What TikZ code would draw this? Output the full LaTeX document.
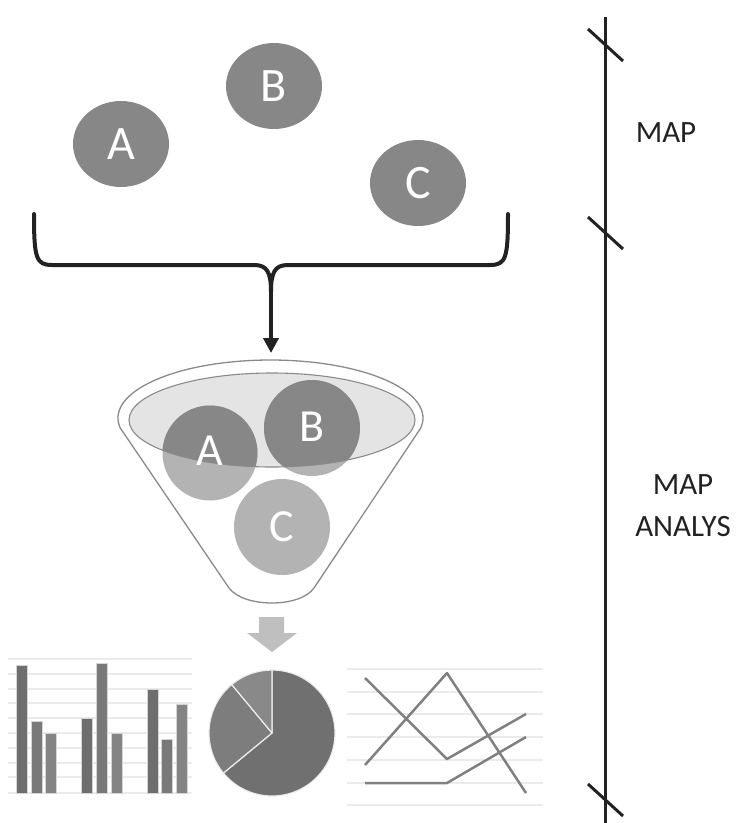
\documentclass[tikz,border=0pt]{standalone}
\usepackage{fontspec}
\setmainfont{Carlito}
\usetikzlibrary{arrows.meta,shapes.geometric}

\definecolor{balldark}{HTML}{878787}
\definecolor{balllight}{HTML}{B3B3B3}
\definecolor{rimgray}{HTML}{8A8A8A}
\definecolor{bowl}{HTML}{E4E4E4}
\definecolor{ink}{HTML}{222222}
\definecolor{grid}{HTML}{EBEBEB}
\definecolor{barone}{HTML}{6E6E6E}
\definecolor{bartwo}{HTML}{797979}
\definecolor{barthree}{HTML}{848484}
\definecolor{pieone}{HTML}{707070}
\definecolor{pietwo}{HTML}{7D7D7D}
\definecolor{piethree}{HTML}{898989}
\definecolor{trend}{HTML}{808080}
\definecolor{blockarrow}{HTML}{BFBFBF}

\begin{document}
\begin{tikzpicture}[x=1pt,y=-1pt,
  topball/.style={ellipse, fill=balldark, draw=none, inner sep=0pt,
    minimum width=96pt, minimum height=86pt, text=white,
    font=\fontsize{48}{48}\selectfont},
  funnelball/.style={circle, draw=none, inner sep=0pt, minimum size=96pt,
    text=white, font=\fontsize{46}{46}\selectfont},
  phase/.style={text=ink, align=center, font=\fontsize{31}{42}\selectfont},
  scaleline/.style={draw=ink, line width=3pt},
  brace/.style={draw=ink, line width=4pt, line cap=round, line join=round},
  gridline/.style={draw=grid, line width=1.5pt},
  bar/.style={draw=grid!80!gray, line width=0.6pt},
  trendline/.style={draw=trend, line width=2.5pt, line join=round},
  slice/.style={draw=white!85!gray, line width=1.2pt, line join=round}]

\useasboundingbox (0,0) rectangle (738,823);

% ---------- phase scale on the right ----------
\coordinate (scaletop) at (605,17);
\coordinate (scalebot) at (605,823);
\draw[scaleline] (scaletop) -- (scalebot);
\coordinate (tickA) at (605,45);
\coordinate (tickB) at (605,233);
\coordinate (tickC) at (605,800);
\foreach \t in {tickA,tickB,tickC}
  \draw[scaleline] ([shift={(-17,-16)}]\t) -- ([shift={(18,16)}]\t);
\node[phase] (lblmap) at (666,133) {MAP};
\node[phase] (lblanalys) at (683,506) {MAP\\ANALYS};

% ---------- input items ----------
\node[topball] (mapA) at (121,144) {A};
\node[topball] (mapB) at (274,86) {B};
\node[topball] (mapC) at (418,183) {C};

% ---------- gathering brace ----------
\coordinate (braceL) at (34,214);
\coordinate (braceR) at (508,214);
\coordinate (bracejoin) at (271,292);
\coordinate (funnelin) at (271,353);
\draw[brace] (braceL) .. controls (34,258) and (36,265) .. (52,265)
  -- (254,265) .. controls (267,265) and (271,272) .. (bracejoin);
\draw[brace] (braceR) .. controls (508,258) and (506,265) .. (490,265)
  -- (288,265) .. controls (275,265) and (271,272) .. (bracejoin);
\draw[brace, -{Triangle[width=15pt,length=15pt]}] (bracejoin) -- (funnelin);

% ---------- funnel ----------
\draw[rimgray, fill=white, line width=1.3pt, line join=round]
  (270.5,418) ++(170:152.5 and 58) arc[start angle=170, end angle=370,
     x radius=152.5, y radius=58]
  -- (314,588) .. controls (300,608) and (244,608) .. (229,588) -- cycle;
\fill[bowl] (272,420) ellipse[x radius=143, y radius=47];

% balls inside the funnel: lighter below the surface, darker within it
\fill[balllight] (210,453) circle[radius=47.5];
\fill[balllight] (312,428) circle[radius=48];
\fill[balllight] (282,527) circle[radius=48];
\begin{scope}
  \clip (272,420) ellipse[x radius=143, y radius=47];
  \fill[balldark] (210,453) circle[radius=47.5];
  \fill[balldark] (312,428) circle[radius=48];
\end{scope}
\draw[rimgray, line width=1.1pt] (272,420) ellipse[x radius=143, y radius=47];
\node[funnelball] (funA) at (210,451) {A};
\node[funnelball] (funB) at (312,427) {B};
\node[funnelball] (funC) at (282,527) {C};

% ---------- output arrow ----------
\fill[blockarrow] (259,617) -- (284,617) -- (284,633) -- (297,633)
  -- (272,652) -- (247,633) -- (259,633) -- cycle;

% ---------- bar chart ----------
\foreach \y in {659,674,689,703,718,733,748,763,777,793}
  \draw[gridline] (8,\y) -- (192,\y);
\foreach \xa/\top/\col in {16/665/barone, 31/721/bartwo, 45/733/barthree,
    81/718/barone, 96/663/bartwo, 111/733/barthree,
    147/689/barone, 161/739/bartwo, 176/704/barthree}
  \filldraw[bar, fill=\col] (\xa,\top) rectangle ({\xa+11},793);

% ---------- pie chart ----------
\coordinate (pie) at (272,733);
\filldraw[slice, fill=pieone] (pie) -- ++(-90:63) arc[start angle=-90, end angle=140.5, radius=63] -- cycle;
\filldraw[slice, fill=pietwo] (pie) -- ++(140.5:63) arc[start angle=140.5, end angle=230.3, radius=63] -- cycle;
\filldraw[slice, fill=piethree] (pie) -- ++(230.3:63) arc[start angle=230.3, end angle=270, radius=63] -- cycle;

% ---------- line chart ----------
\foreach \y in {669,692,714,737,760,783,805}
  \draw[gridline] (347,\y) -- (543,\y);
\draw[trendline] (365,678) -- (447,759) -- (526,714);
\draw[trendline] (365,765) -- (447,673) -- (526,793);
\draw[trendline] (365,783) -- (447,783) -- (526,737);

\end{tikzpicture}
\end{document}
